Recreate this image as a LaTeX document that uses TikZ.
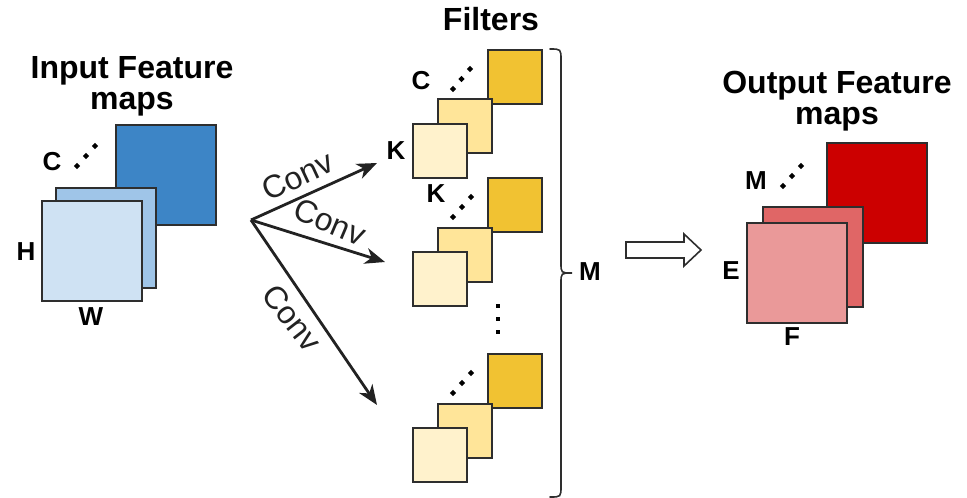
\documentclass[tikz,border=0pt]{standalone}
\usepackage{fontspec}
\setmainfont{Liberation Sans}
\usetikzlibrary{arrows.meta,shapes.geometric}
\definecolor{edge}{HTML}{2E2E2E}
\definecolor{arrowc}{HTML}{222222}
\definecolor{bdark}{HTML}{3D85C6}
\definecolor{bmid}{HTML}{9FC5E8}
\definecolor{blight}{HTML}{CFE2F3}
\definecolor{ydark}{HTML}{F1C232}
\definecolor{ymid}{HTML}{FFE599}
\definecolor{ylight}{HTML}{FFF2CC}
\definecolor{rdark}{HTML}{CC0000}
\definecolor{rmid}{HTML}{E06666}
\definecolor{rlight}{HTML}{EA9999}
\begin{document}
\begin{tikzpicture}[x=1pt,y=-1pt,
  sq/.style={draw=edge, line width=1.8pt, inner sep=0pt, minimum size=100pt, anchor=north west},
  fsq/.style={sq, minimum size=54pt},
  lbl/.style={font=\fontsize{26}{26}\selectfont\bfseries, inner sep=0pt},
  ttl/.style={font=\fontsize{32}{31}\selectfont\bfseries, align=center, inner sep=0pt},
  dotd/.style={diamond, fill=black, inner sep=0pt, minimum size=6.5pt},
  dots/.style={rectangle, fill=black, inner sep=0pt, minimum size=4.5pt},
  conn/.style={draw=arrowc, line width=2.8pt, -{Stealth[length=20pt,width=16pt,inset=6pt]}},
  convl/.style={font=\fontsize{32}{32}\selectfont, inner sep=0pt, text=arrowc}]
\useasboundingbox (0,0) rectangle (967,498);

% ---------- input feature maps ----------
\node[ttl] (tin) at (132,86) {Input Feature\\maps};
\node[sq, fill=bdark] (in3) at (115,124) {};
\node[sq, fill=bmid] (in2) at (55,187) {};
\node[sq, fill=blight] (in1) at (41,200) {};
\node[dotd] (ind1) at (77,166) {};
\node[dotd] (ind2) at (86,156) {};
\node[dotd] (ind3) at (95,146) {};
\node[lbl] (inC) at (52,162) {C};
\node[lbl] (inH) at (26,252) {H};
\node[lbl] (inW) at (91,317) {W};

% ---------- filters ----------
\node[ttl] (tf) at (491,19) {Filters};
% group 1
\node[fsq, fill=ydark] (f13) at (487,49) {};
\node[fsq, fill=ymid] (f12) at (437,98) {};
\node[fsq, fill=ylight] (f11) at (412,123) {};
\node[dotd] (f1d1) at (453,89) {};
\node[dotd] (f1d2) at (461.5,79) {};
\node[dotd] (f1d3) at (470,69) {};
\node[lbl] (fC) at (421,81) {C};
\node[lbl] (fK1) at (396,151) {K};
% group 2
\node[fsq, fill=ydark] (f23) at (487,177) {};
\node[fsq, fill=ymid] (f22) at (437,227) {};
\node[fsq, fill=ylight] (f21) at (412,251) {};
\node[dotd] (f2d1) at (453,217) {};
\node[dotd] (f2d2) at (462,207) {};
\node[dotd] (f2d3) at (471,197) {};
\node[lbl] (fK2) at (436,194) {K};
% vertical dots
\node[dots] (vd1) at (498,306) {};
\node[dots] (vd2) at (498,319) {};
\node[dots] (vd3) at (498,332) {};
% group 3
\node[fsq, fill=ydark] (f33) at (487,353) {};
\node[fsq, fill=ymid] (f32) at (437,403) {};
\node[fsq, fill=ylight] (f31) at (412,427) {};
\node[dotd] (f3d1) at (453,393) {};
\node[dotd] (f3d2) at (462,383) {};
\node[dotd] (f3d3) at (471,373) {};

% brace
\draw[edge, line width=1.6pt, line cap=round]
  (550,49) .. controls (561,49) .. (561,60) -- (561,263)
  .. controls (561,273) .. (572,273) .. controls (561,273) .. (561,283)
  -- (561,486) .. controls (561,497) .. (550,497);
\node[lbl] (fM) at (590,272) {M};

% ---------- conv arrows ----------
\coordinate (o) at (251,220);
\coordinate (t1) at (377,163);
\coordinate (t2) at (385,262);
\coordinate (t3) at (377,405);
\draw[conn] (o) -- (t1);
\draw[conn] (o) -- (t2);
\draw[conn] (o) -- (t3);
\node[convl, rotate=25] (c1) at (298,176) {Conv};
\node[convl, rotate=-23] (c2) at (330,222) {Conv};
\node[convl, rotate=-52] (c3) at (292,318) {Conv};

% ---------- hollow arrow ----------
\draw[edge, line width=1.6pt, fill=white, line join=miter]
  (626,242) -- (684,242) -- (684,234) -- (701,250) -- (684,266) -- (684,258) -- (626,258) -- cycle;

% ---------- output feature maps ----------
\node[ttl] (tout) at (837,101) {Output Feature\\maps};
\node[sq, fill=rdark] (out3) at (826,142) {};
\node[sq, fill=rmid] (out2) at (762,206) {};
\node[sq, fill=rlight] (out1) at (746,222) {};
\node[dotd] (od1) at (783,186) {};
\node[dotd] (od2) at (792,176) {};
\node[dotd] (od3) at (801,166) {};
\node[lbl] (oM) at (756,181) {M};
\node[lbl] (oE) at (731,271) {E};
\node[lbl] (oF) at (792,337) {F};
\end{tikzpicture}
\end{document}
